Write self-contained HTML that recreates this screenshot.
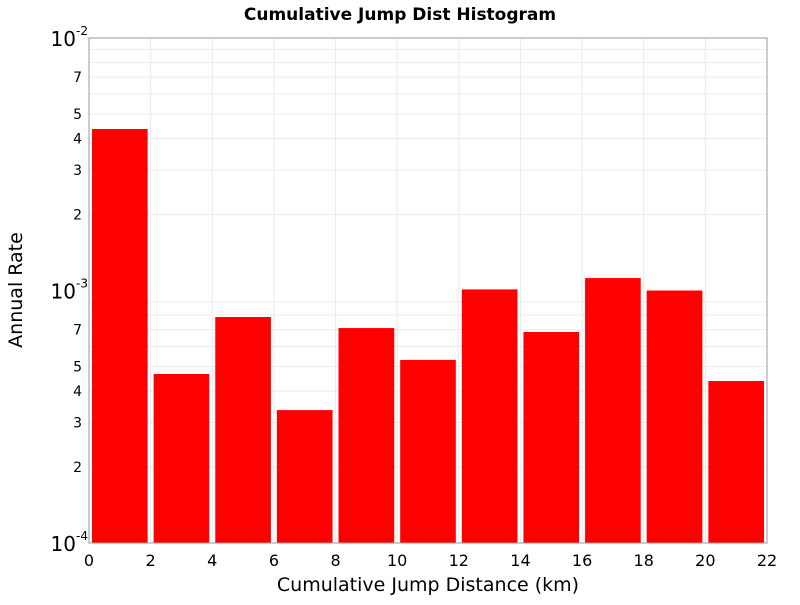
<!DOCTYPE html>
<html><head><meta charset="utf-8"><style>
body{margin:0;background:#fff;font-family:"Liberation Sans","DejaVu Sans",sans-serif}
</style></head><body>
<svg id="chart" width="800" height="600" xmlns="http://www.w3.org/2000/svg" font-family="DejaVu Sans, Liberation Sans, sans-serif">
<text x="400" y="20" text-anchor="middle" font-size="17" font-weight="bold">Cumulative Jump Dist Histogram</text>
<g id="grid"></g>
<g id="bars"></g>
<rect x="89" y="38" width="678" height="505" fill="none" stroke="#999" stroke-width="1"/>
<g id="xticks"></g>
<g id="yticks"></g>
<text x="428" y="591" text-anchor="middle" font-size="19">Cumulative Jump Distance (km)</text>
<text transform="translate(22,290) rotate(-90)" text-anchor="middle" font-size="19">Annual Rate</text>
</svg>
<script>
const binStarts=[0,2,4,6,8,10,12,14,16,18,20];
const binWidth=2;
const rates=[4.36e-3,4.67e-4,7.85e-4,3.36e-4,7.10e-4,5.31e-4,1.01e-3,6.85e-4,1.12e-3,1.00e-3,4.38e-4];
const xTicks=[0,2,4,6,8,10,12,14,16,18,20,22];
const minorLabels=[2,3,4,5,7];
const L=89,R=767,T=38,B=543;
const ns="http://www.w3.org/2000/svg";
const X=v=>L+(v-0)/22*(R-L);
const Y=v=>T+(-2-Math.log10(v))/2*(B-T);
function mk(tag,attrs,parent,txt){const e=document.createElementNS(ns,tag);for(const k in attrs)e.setAttribute(k,attrs[k]);if(txt!==undefined)e.textContent=txt;parent.appendChild(e);return e;}
const grid=document.getElementById('grid'),bars=document.getElementById('bars'),xt=document.getElementById('xticks'),yt=document.getElementById('yticks');
for(const t of xTicks){
  const g=mk('line',{x1:X(t),x2:X(t),y1:T,y2:B,stroke:'#ebebeb'},grid);
  
  const l=mk('text',{x:X(t),y:566,'text-anchor':'middle','font-size':16},xt,String(t));
  
}
for(const d of [-4,-3]){
  for(let m=1;m<10;m++){
    const v=m*Math.pow(10,d);const y=Y(v);
    if(m>1){const g=mk('line',{x1:L,x2:R,y1:y,y2:y,stroke:'#ebebeb'},grid);
      }
    if(minorLabels.includes(m)){
      const l=mk('text',{x:82,y:y+5,'text-anchor':'end','font-size':14},yt,String(m));
      
    }
  }
}
for(const d of [-4,-3,-2]){
  const y=Y(Math.pow(10,d));
  const l=mk('text',{x:76,y:y+8,'text-anchor':'end','font-size':20},yt,'10');
  
  const s=mk('text',{x:76,y:y-3,'text-anchor':'start','font-size':12},yt,String(d));
  
}
binStarts.forEach((s,i)=>{
  const x0=X(s)+3,x1=X(s+binWidth)-3,y=Y(rates[i]);
  const r=mk('rect',{x:x0,y:y,width:x1-x0,height:B-y,fill:'#ff0000'},bars);
  
});
</script>
</body></html>
